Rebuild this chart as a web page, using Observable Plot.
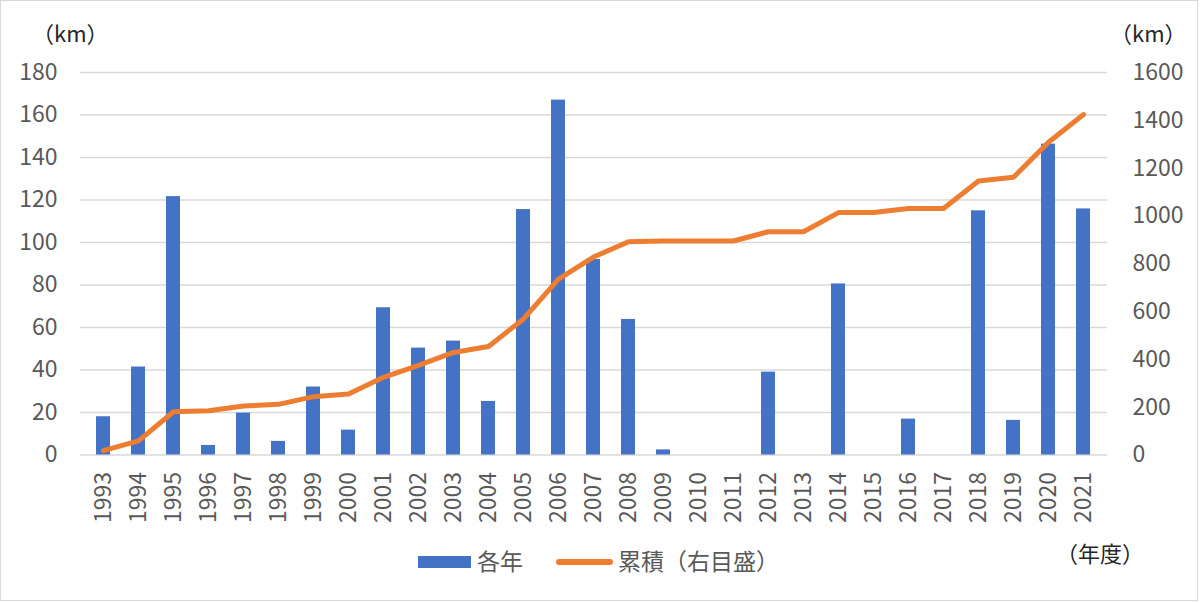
<!DOCTYPE html>
<html><head><meta charset="utf-8">
<script src="https://cdn.jsdelivr.net/npm/d3@7"></script>
<script src="https://cdn.jsdelivr.net/npm/@observablehq/plot@0.6"></script>
<style>
body{margin:0;background:#fff;}
#wrap{position:relative;width:1200px;height:603px;font-family:"Noto Sans CJK JP","Noto Sans",sans-serif;color:#595959;overflow:hidden;}
#frame{position:absolute;left:0;top:0;width:1196px;height:599px;border:1.5px solid #d9d9d9;pointer-events:none;}
.lbl{position:absolute;white-space:nowrap;line-height:1;}
</style></head>
<body><div id="wrap"><div id="chart"></div>
<div class="lbl" style="left:32px;top:21px;font-size:22px;color:#262626">（km）</div>
<div class="lbl" style="left:1110px;top:21px;font-size:22px;color:#262626">（km）</div>
<div class="lbl" style="left:1056px;top:541px;font-size:22px;color:#262626">（年度）</div>
<div class="lbl" style="left:418px;top:556px;width:53px;height:12px;background:#4472C4"></div>
<div class="lbl" style="left:477px;top:549px;font-size:23px">各年</div>
<div class="lbl" style="left:556px;top:559px;width:57px;height:6px;border-radius:3px;background:#ED7D31"></div>
<div class="lbl" style="left:618px;top:549px;font-size:23px">累積（右目盛）</div>
<div id="frame"></div>
</div>
<script>
const years = ["1993","1994","1995","1996","1997","1998","1999","2000","2001","2002","2003","2004","2005","2006","2007","2008","2009","2010","2011","2012","2013","2014","2015","2016","2017","2018","2019","2020","2021"];
const annual = [18, 41.4, 121.6, 4.5, 19.7, 6.4, 32, 11.7, 69.3, 50.3, 53.6, 25.2, 115.5, 167, 92, 63.8, 2.4, 0, 0, 39, 0, 80.5, 0, 16.9, 0, 114.9, 16.3, 146.3, 115.8];
const cumulative = [18, 59, 181, 185, 205, 212, 244, 255, 325, 375, 429, 454, 569, 736, 828, 892, 895, 895, 895, 934, 934, 1014, 1014, 1031, 1031, 1146, 1162, 1308, 1424];
const leftTicks = [0,20,40,60,80,100,120,140,160,180];
const rightTicks = [0,200,400,600,800,1000,1200,1400,1600];
const leftMax = 180, rightMax = 1600;
const k = leftMax / rightMax;
const tickFont = 23;

const data = years.map((y,i)=>({year:y, annual:annual[i], cum:cumulative[i]}));

const chart = Plot.plot({
  width:1200, height:603,
  marginLeft:80, marginRight:93, marginTop:72, marginBottom:148.5,
  style:{fontFamily:'"Noto Sans CJK JP","Noto Sans",sans-serif', fontSize:tickFont+"px", color:"#595959", background:"transparent"},
  x:{type:"band", domain:years, paddingInner:0.59, paddingOuter:0.295, label:null},
  y:{domain:[0,leftMax], label:null},
  marks:[
    Plot.gridY(leftTicks, {stroke:"#d9d9d9", strokeOpacity:1, strokeWidth:1.5}),
    Plot.barY(data, {x:"year", y:"annual", fill:"#4472C4"}),
    Plot.lineY(data, {x:"year", y:d=>d.cum*k, stroke:"#ED7D31", strokeWidth:5, strokeLinejoin:"round", strokeLinecap:"round"}),
    Plot.axisY({anchor:"left", ticks:leftTicks, tickSize:0, tickPadding:23, fontSize:tickFont, label:null}),
    Plot.axisY({anchor:"right", ticks:rightTicks.map(v=>v*k), tickFormat:v=>String(Math.round(v/k)), tickSize:0, tickPadding:25, fontSize:tickFont, label:null}),
    Plot.axisX({tickRotate:-90, tickSize:0, tickPadding:17, fontSize:tickFont, label:null})
  ]
});
document.getElementById("chart").appendChild(chart);
</script></body></html>
